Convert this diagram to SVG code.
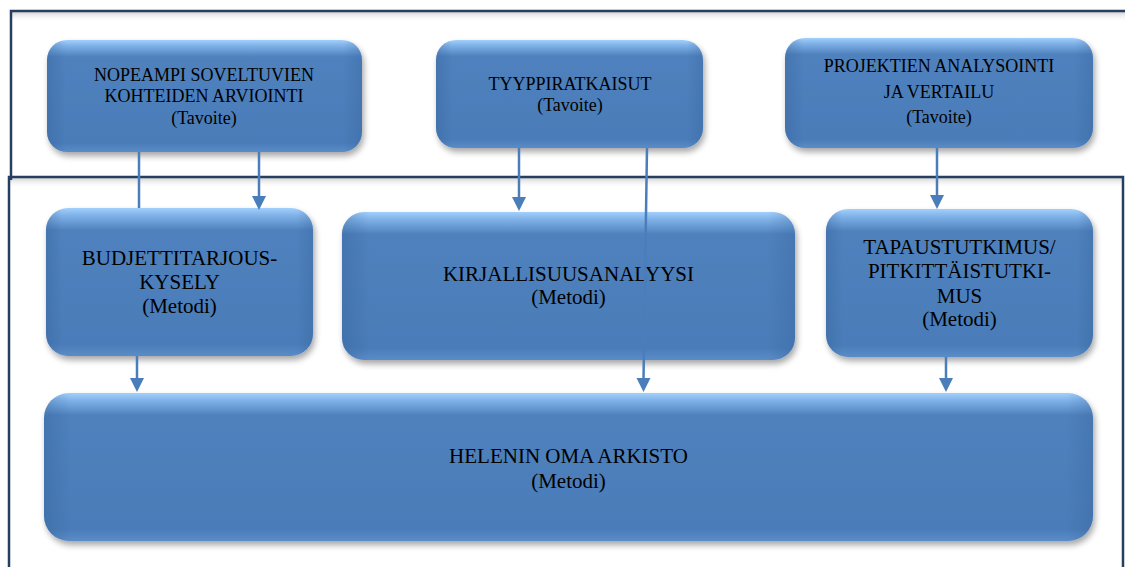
<svg xmlns="http://www.w3.org/2000/svg" width="1125" height="567" viewBox="0 0 1125 567">
<style>
.frame{fill:none;stroke:#243F60;stroke-width:2.5}
.fshadow{fill:url(#fs)}
.box{fill:url(#vg);filter:url(#sh)}
.edge{fill:url(#hg)}
.edgew{fill:url(#hgw)}
.t{font-family:"Liberation Serif","Times New Roman",serif;fill:#000;text-anchor:middle}
.s18{font-size:18px}
.s21{font-size:21px}
.con{fill:none;stroke:#4A7EBB;stroke-width:2.5}
.head{fill:#4A7EBB}
</style>
<defs>
<linearGradient id="vg" x1="0" y1="0" x2="0" y2="1">
<stop offset="0" stop-color="#A3D0FC"/>
<stop offset="0.05" stop-color="#7FB2E8"/>
<stop offset="0.15" stop-color="#4F81BD"/>
<stop offset="0.92" stop-color="#4A7CB8"/>
<stop offset="1" stop-color="#5A8CC8"/>
</linearGradient>
<linearGradient id="hg" x1="0" y1="0" x2="1" y2="0">
<stop offset="0" stop-color="#2E5A90" stop-opacity="0.3"/>
<stop offset="0.06" stop-color="#2E5A90" stop-opacity="0"/>
<stop offset="0.94" stop-color="#2E5A90" stop-opacity="0"/>
<stop offset="1" stop-color="#2E5A90" stop-opacity="0.25"/>
</linearGradient>
<linearGradient id="hgw" x1="0" y1="0" x2="1" y2="0">
<stop offset="0" stop-color="#2E5A90" stop-opacity="0.3"/>
<stop offset="0.025" stop-color="#2E5A90" stop-opacity="0"/>
<stop offset="0.975" stop-color="#2E5A90" stop-opacity="0"/>
<stop offset="1" stop-color="#2E5A90" stop-opacity="0.25"/>
</linearGradient>
<linearGradient id="fs" x1="0" y1="0" x2="0" y2="1">
<stop offset="0" stop-color="#C8C8C8" stop-opacity="0.8"/>
<stop offset="1" stop-color="#FFFFFF" stop-opacity="0"/>
</linearGradient>
<filter id="sh" x="-10%" y="-10%" width="125%" height="130%">
<feGaussianBlur in="SourceAlpha" stdDeviation="3"/>
<feOffset dx="2" dy="4" result="b"/>
<feComponentTransfer><feFuncA type="linear" slope="0.35"/></feComponentTransfer>
<feMerge><feMergeNode/><feMergeNode in="SourceGraphic"/></feMerge>
</filter>
</defs>
<rect width="1125" height="567" fill="#FFFFFF"/>
<g id="frames">
<rect class="fshadow" x="12" y="12" width="1113" height="10"/>
<rect class="fshadow" x="10" y="178" width="1112" height="10"/>
<path class="frame" d="M11,180 V11 H1130"/>
<path class="frame" d="M9,572 V177 H1123 V572"/>
</g>
<g id="n1">
<rect class="box" x="47" y="40" width="315" height="112" rx="20"/>
<rect class="edge" x="47" y="40" width="315" height="112" rx="20"/>
<text class="t s18" x="204" y="81">NOPEAMPI SOVELTUVIEN</text>
<text class="t s18" x="204" y="102">KOHTEIDEN ARVIOINTI</text>
<text class="t s18" x="204" y="124">(Tavoite)</text>
</g>
<g id="n2">
<rect class="box" x="436" y="40" width="267" height="108" rx="20"/>
<rect class="edge" x="436" y="40" width="267" height="108" rx="20"/>
<text class="t s18" x="570" y="90">TYYPPIRATKAISUT</text>
<text class="t s18" x="570" y="111">(Tavoite)</text>
</g>
<g id="n3">
<rect class="box" x="785" y="38" width="308" height="110" rx="20"/>
<rect class="edge" x="785" y="38" width="308" height="110" rx="20"/>
<text class="t s18" x="939" y="72">PROJEKTIEN ANALYSOINTI</text>
<text class="t s18" x="939" y="98">JA VERTAILU</text>
<text class="t s18" x="939" y="123">(Tavoite)</text>
</g>
<g id="n4">
<rect class="box" x="46" y="208" width="267" height="148" rx="22"/>
<rect class="edge" x="46" y="208" width="267" height="148" rx="22"/>
<text class="t s21" x="179.5" y="265">BUDJETTITARJOUS-</text>
<text class="t s21" x="179.5" y="289">KYSELY</text>
<text class="t s21" x="179.5" y="313">(Metodi)</text>
</g>
<g id="n5">
<rect class="box" x="342" y="212" width="453" height="148" rx="22"/>
<rect class="edge" x="342" y="212" width="453" height="148" rx="22"/>
<text class="t s21" x="568.5" y="281">KIRJALLISUUSANALYYSI</text>
<text class="t s21" x="568.5" y="304">(Metodi)</text>
</g>
<g id="n6">
<rect class="box" x="826" y="209" width="267" height="148" rx="22"/>
<rect class="edge" x="826" y="209" width="267" height="148" rx="22"/>
<text class="t s21" x="959.5" y="254">TAPAUSTUTKIMUS/</text>
<text class="t s21" x="959.5" y="278">PITKITTÄISTUTKI-</text>
<text class="t s21" x="959.5" y="303">MUS</text>
<text class="t s21" x="959.5" y="326">(Metodi)</text>
</g>
<g id="n7">
<rect class="box" x="44" y="393" width="1049" height="148" rx="25"/>
<rect class="edgew" x="44" y="393" width="1049" height="148" rx="25"/>
<text class="t s21" x="568.5" y="463">HELENIN OMA ARKISTO</text>
<text class="t s21" x="568.5" y="488">(Metodi)</text>
</g>
<g id="connectors">
<path class="con" d="M139,152 V208"/>
<path class="con" d="M259,152 V197"/>
<path class="head" d="M252,196 L266,196 L259,210 Z"/>
<path class="con" d="M519,148 V198"/>
<path class="head" d="M512,197 L526,197 L519,211 Z"/>
<path class="con" d="M647,148 L643.5,380"/>
<path class="head" d="M636.5,378 L650.5,378 L643.5,392 Z"/>
<path class="con" d="M937,148 V196"/>
<path class="head" d="M930,195 L944,195 L937,209 Z"/>
<path class="con" d="M137,356 V380"/>
<path class="head" d="M130,378 L144,378 L137,392 Z"/>
<path class="con" d="M946,357 V380"/>
<path class="head" d="M939,378 L953,378 L946,392 Z"/>
</g>
</svg>
